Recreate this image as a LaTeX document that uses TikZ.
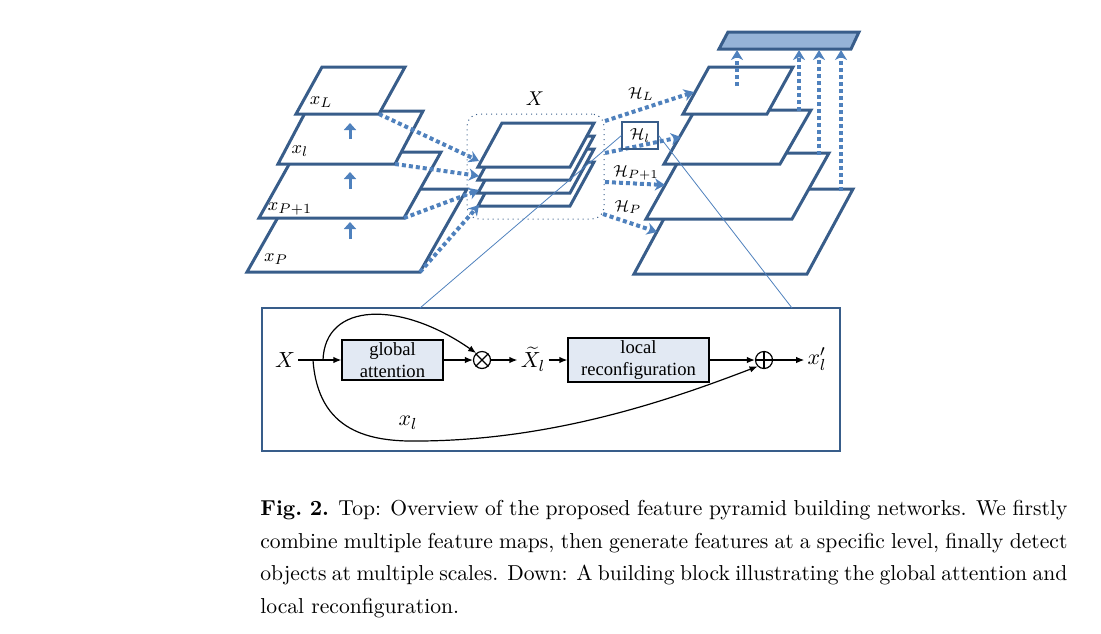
\documentclass[tikz,border=0pt]{standalone}
\usepackage{fontspec}
\newfontfamily\tnr{Liberation Serif}
\usetikzlibrary{arrows.meta}
\definecolor{dkb}{HTML}{385D8A}
\definecolor{acb}{HTML}{4F81BD}
\definecolor{barb}{HTML}{95B3D7}
\definecolor{boxf}{HTML}{E2E9F3}
\begin{document}
\begin{tikzpicture}[x=0.5pt,y=-0.5pt,
  layer/.style={draw=dkb,line width=1.5pt,fill=white,line join=miter},
  dotarr/.style={draw=acb,line width=2pt,dash pattern=on 2pt off 1.5pt,-{Stealth[length=5pt,width=6pt,inset=1.5pt]}},
  uparr/.style={draw=acb,line width=1.5pt,-{Triangle[length=3.5pt,width=6pt]}},
  lbl/.style={inner sep=1pt,font=\fontsize{9.5}{11}\selectfont},
  hlbl/.style={inner sep=1pt,font=\fontsize{8.5}{10}\selectfont},
  blk/.style={draw=black,line width=0.6pt,fill=boxf,align=center,inner sep=0pt,font=\tnr\fontsize{9.3}{11}\selectfont},
  barr/.style={draw=black,line width=0.6pt,-{Latex[length=4pt,width=3.2pt]}},
  mlbl/.style={inner sep=1.5pt,font=\fontsize{11}{12}\selectfont},
  opnode/.style={circle,draw=black,line width=0.6pt,minimum size=8.5pt,inner sep=0pt},
  zoomline/.style={draw=acb,line width=0.4pt},
  captxt/.style={anchor=north west,inner sep=0pt,text width=403.5pt,align=justify,font=\fontsize{10.8}{16.25}\selectfont}
]
\useasboundingbox (0,0) rectangle (1101,633);

% ---------- left pyramid ----------
\draw[layer] (247,272) -- (420,272) coordinate (L4br) -- (467,189) -- (294,189) -- cycle;
\draw[layer] (259,218) -- (404,218) coordinate (L3br) -- (441,152) -- (296,152) -- cycle;
\draw[layer] (278,164) -- (395,164) coordinate (L2br) -- (423,111) -- (306,111) -- cycle;
\draw[layer] (296,114) -- (379,114) coordinate (L1br) -- (405,67) -- (322,67) -- cycle;
\coordinate (u1s) at (350,139); \coordinate (u1e) at (350,123);
\coordinate (u2s) at (350,189); \coordinate (u2e) at (350,172);
\coordinate (u3s) at (350,239); \coordinate (u3e) at (350,222);
\draw[uparr] (u1s) -- (u1e);
\draw[uparr] (u2s) -- (u2e);
\draw[uparr] (u3s) -- (u3e);
\node[lbl] (lxL) at (321,102) {$x_L$};
\node[lbl] (lxl) at (300,151) {$x_l$};
\node[lbl] (lxP1) at (290,209) {$x_{P+1}$};
\node[lbl] (lxP) at (276,259) {$x_P$};

% ---------- middle stack ----------
\node[draw=dkb,line width=0.5pt,dotted,rounded corners=6pt,minimum width=68.5pt,minimum height=52.5pt,inner sep=0pt] (Xbox) at (535.5,166.5) {};
\node[inner sep=1pt,font=\fontsize{10}{11}\selectfont] (Xlab) at (535,99) {$X$};
\foreach \k in {3,2,1,0}{
  \draw[layer] (478,{167+13*\k}) -- (570,{167+13*\k}) -- (594,{123+13*\k}) -- (502,{123+13*\k}) -- cycle;
}
\coordinate (a1) at (479,161);
\coordinate (a2) at (479,176);
\coordinate (a3) at (479,190);
\coordinate (a4) at (479,205);
\draw[dotarr] (L1br) -- (a1);
\draw[dotarr] (L2br) -- (a2);
\draw[dotarr] (L3br) -- (a3);
\draw[dotarr] (L4br) -- (a4);

% ---------- right pyramid ----------
\draw[layer] (634,274) -- (807,274) -- (853,189) -- (680,189) -- cycle;
\draw[layer] (646,219) -- (792,219) -- (829,153) -- (683,153) -- cycle;
\draw[layer] (664,164) -- (780,164) -- (811,110) -- (695,110) -- cycle;
\draw[layer] (683,114) -- (767,114) -- (793,67) -- (709,67) -- cycle;
\draw[draw=dkb,fill=barb,line width=1.5pt] (719,49) -- (851,49) -- (859,32) -- (728,32) -- cycle;
\coordinate (v1s) at (737,86);  \coordinate (v1e) at (737,50);
\coordinate (v2s) at (799,111); \coordinate (v2e) at (799,50);
\coordinate (v3s) at (819,155); \coordinate (v3e) at (819,50);
\coordinate (v4s) at (841,191); \coordinate (v4e) at (841,50);
\draw[dotarr] (v1s) -- (v1e);
\draw[dotarr] (v2s) -- (v2e);
\draw[dotarr] (v3s) -- (v3e);
\draw[dotarr] (v4s) -- (v4e);

% ---------- H arrows ----------
\coordinate (h1s) at (605,121); \coordinate (h1e) at (694,92);
\coordinate (h2s) at (605,153); \coordinate (h2e) at (681,137);
\coordinate (h3s) at (605,182); \coordinate (h3e) at (665,185);
\coordinate (h4s) at (603,214); \coordinate (h4e) at (657,232);
\draw[dotarr] (h1s) -- (h1e);
\draw[dotarr] (h2s) -- (h2e);
\draw[dotarr] (h3s) -- (h3e);
\draw[dotarr] (h4s) -- (h4e);
\node[hlbl] (HL) at (641,94) {$\mathcal{H}_L$};
\node[hlbl,draw=dkb,line width=0.6pt,minimum width=18pt,minimum height=13.5pt] (Hl) at (640,135.5) {$\mathcal{H}_l$};
\node[hlbl] (HP1) at (636,173) {$\mathcal{H}_{P+1}$};
\node[hlbl] (HP) at (628,207) {$\mathcal{H}_P$};

% ---------- bottom block ----------
\node[draw=dkb,line width=0.6pt,minimum width=289pt,minimum height=71.5pt,inner sep=0pt] (bb) at (551,379.5) {};
\coordinate (zl) at (420,308);
\coordinate (zr) at (792,308);
\draw[zoomline] (Hl.west) -- (zl);
\draw[zoomline] (Hl.east) -- (zr);

\node[mlbl] (X) at (285,360) {$X$};
\node[blk,minimum width=50.5pt,minimum height=20pt] (ga) at (392.5,360) {global\\attention};
\node[opnode] (ot) at (482,360) {};
\draw[line width=0.6pt] (ot.north west) -- (ot.south east) (ot.north east) -- (ot.south west);
\node[mlbl] (Xt) at (533,359) {$\widetilde{X}_l$};
\node[blk,minimum width=70.5pt,minimum height=22pt] (lr) at (638.5,360) {local\\reconfiguration};
\node[opnode] (op) at (764,360) {};
\draw[line width=0.6pt] (op.north) -- (op.south) (op.west) -- (op.east);
\node[mlbl] (xo) at (817,359) {$x_l'$};
\node[mlbl] (xl) at (408,423) {$x_l$};

\draw[barr] (X.east) -- (ga.west);
\draw[barr] (ga.east) -- (ot.west);
\draw[barr] (ot.east) -- (Xt.west |- ot.east);
\draw[barr] (Xt.east |- lr.west) -- (lr.west);
\draw[barr] (lr.east) -- (op.west);
\draw[barr] (op.east) -- (xo.west |- op.east);
\coordinate (c1) at (323,360);
\coordinate (c2) at (313,360);
\draw[barr] (c1) .. controls (325,302) and (400,300) .. (ot.130);
\draw[barr] (c2) .. controls (318,432) and (370,442) .. (420,441) .. controls (560,440) and (680,396) .. (op.225);

% ---------- caption ----------
\node[captxt] (cap) at (260,500) {\noindent\textbf{Fig.~2.} Top: Overview of the proposed feature pyramid building networks. We firstly\linebreak combine multiple feature maps, then generate features at a specific level, finally detect\linebreak objects at multiple scales. Down: A building block illustrating the global attention and\linebreak local reconfiguration.};
\end{tikzpicture}
\end{document}
